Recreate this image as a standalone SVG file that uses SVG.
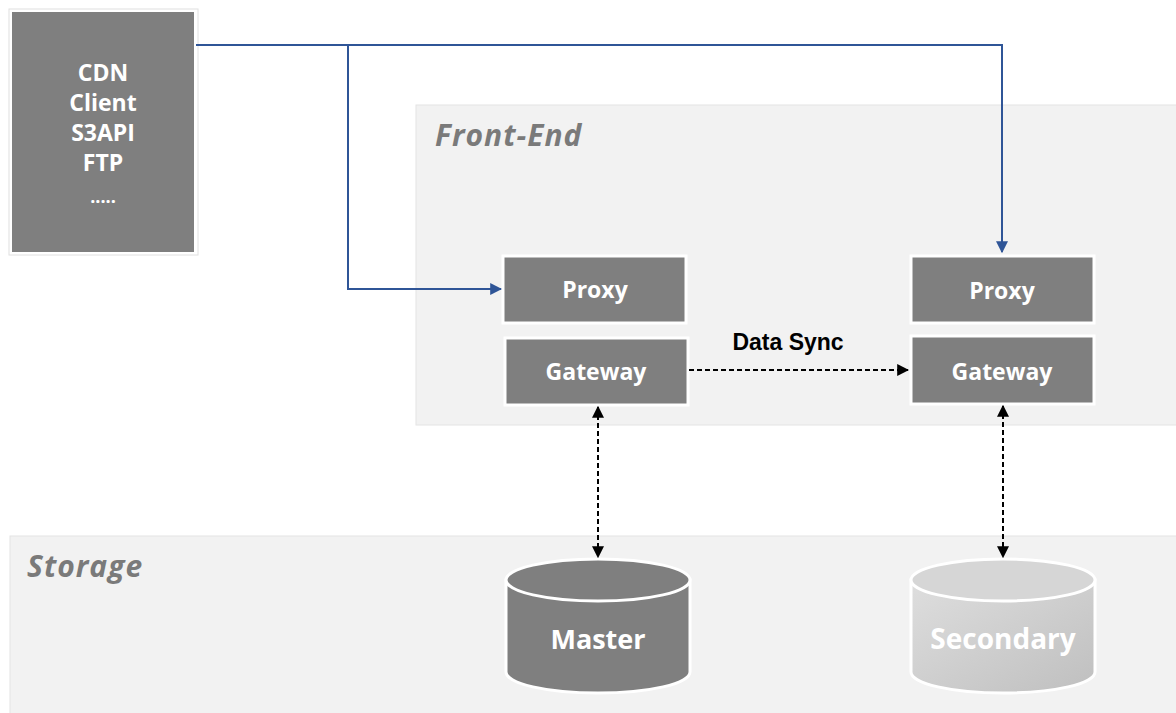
<svg xmlns="http://www.w3.org/2000/svg" width="1176" height="713" viewBox="0 0 1176 713">
<defs>
<style>
.panel{fill:#f2f2f2;stroke:#e4e4e4;stroke-width:1}
.box{fill:#7f7f7f;stroke:#ffffff;stroke-width:3}
.wt{fill:#ffffff;font-family:"Open Sans","Noto Sans",sans-serif;font-weight:bold;text-anchor:middle}
.sect{fill:#7a7a7a;font-family:"Open Sans","Noto Sans",sans-serif;font-weight:bold;font-style:italic;font-size:30px;letter-spacing:1px}
.blue{fill:none;stroke:#2f5597;stroke-width:2}
.dash{fill:none;stroke:#000;stroke-width:2;stroke-dasharray:5,3}
</style>
<marker id="ab" viewBox="0 0 10 10" refX="9" refY="5" markerWidth="6" markerHeight="6" orient="auto"><path d="M0,0 L10,5 L0,10 z" fill="#2f5597"/></marker>
<marker id="ak" viewBox="0 0 10 10" refX="9" refY="5" markerWidth="6" markerHeight="6" orient="auto-start-reverse"><path d="M0,0 L10,5 L0,10 z" fill="#000"/></marker>
<linearGradient id="sg" x1="0" y1="0" x2="1" y2="1"><stop offset="0" stop-color="#dedede"/><stop offset="1" stop-color="#bfbfbf"/></linearGradient>
</defs>
<rect width="1176" height="713" fill="#ffffff"/>
<g id="frontend">
<rect class="panel" x="416" y="105" width="770" height="320"/>
<text class="sect" x="435" y="146">Front-End</text>
</g>
<g id="storage">
<rect class="panel" x="10" y="536" width="1176" height="180"/>
<text class="sect" x="27" y="577">Storage</text>
</g>
<g id="client">
<rect x="9" y="9" width="189" height="246" fill="#fff" stroke="#e0e0e0" stroke-width="1"/>
<rect x="12" y="12" width="182" height="240" fill="#7f7f7f"/>
<text class="wt" font-size="23" x="103" y="81">CDN</text>
<text class="wt" font-size="23" x="103" y="111">Client</text>
<text class="wt" font-size="23" x="103" y="141">S3API</text>
<text class="wt" font-size="23" x="103" y="171">FTP</text>
<text class="wt" font-size="18" x="103" y="203">.....</text>
</g>
<g id="proxy1">
<rect class="box" x="503" y="256" width="183" height="67"/>
<text class="wt" font-size="23" x="595" y="298">Proxy</text>
</g>
<g id="gateway1">
<rect class="box" x="505" y="338" width="183" height="67"/>
<text class="wt" font-size="23" x="596" y="380">Gateway</text>
</g>
<g id="proxy2">
<rect class="box" x="911" y="256" width="183" height="67"/>
<text class="wt" font-size="23" x="1002" y="299">Proxy</text>
</g>
<g id="gateway2">
<rect class="box" x="911" y="336" width="183" height="68"/>
<text class="wt" font-size="23" x="1002" y="380">Gateway</text>
</g>
<g id="master">
<path d="M506,580 L506,672 A92,21 0 0 0 690,672 L690,580 Z" fill="#7f7f7f" stroke="#fff" stroke-width="3"/>
<ellipse cx="598" cy="580" rx="92" ry="21" fill="#7f7f7f" stroke="#fff" stroke-width="3"/>
<text class="wt" font-size="27" x="598" y="649">Master</text>
</g>
<g id="secondary">
<path d="M911,580 L911,672 A92,21 0 0 0 1095,672 L1095,580 Z" fill="url(#sg)" stroke="#fff" stroke-width="3"/>
<ellipse cx="1003" cy="580" rx="92" ry="21" fill="#d6d6d6" stroke="#fff" stroke-width="3"/>
<text class="wt" font-size="28" x="1003" y="649">Secondary</text>
</g>
<g id="connectors">
<polyline class="blue" points="196,45 1002,45 1002,252" marker-end="url(#ab)"/>
<polyline class="blue" points="348,45 348,289 501,289" marker-end="url(#ab)"/>
<line class="dash" x1="689" y1="370" x2="908" y2="370" marker-end="url(#ak)"/>
<line class="dash" x1="598" y1="407" x2="598" y2="557" marker-start="url(#ak)" marker-end="url(#ak)"/>
<line class="dash" x1="1003" y1="406" x2="1003" y2="557" marker-start="url(#ak)" marker-end="url(#ak)"/>
<text x="788" y="350" font-family="'Liberation Sans',Arial,sans-serif" font-weight="bold" font-size="23" text-anchor="middle" fill="#000">Data Sync</text>
</g>
</svg>
